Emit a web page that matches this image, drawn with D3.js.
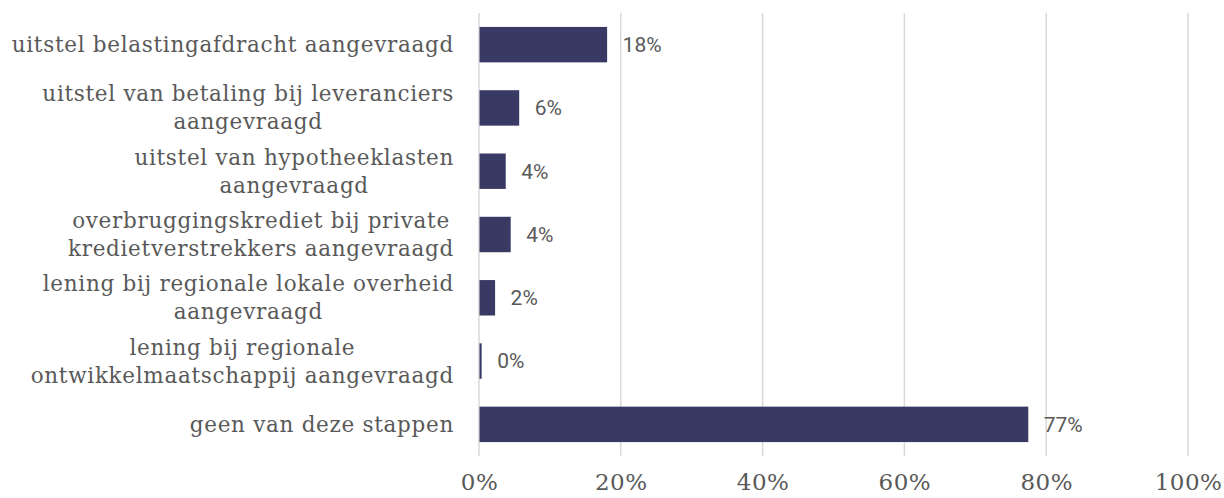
<!DOCTYPE html>
<html>
<head>
<meta charset="utf-8">
<script src="https://cdn.jsdelivr.net/npm/d3@7"></script>
<style>
  body { margin: 0; background: #fff; }
  svg { display: block; }
</style>
</head>
<body>
<svg id="chart" width="1224" height="498"></svg>
<script>
// categories, top to bottom (lines split as in the original)
const categories = [
  ["uitstel belastingafdracht aangevraagd"],
  ["uitstel van betaling bij leveranciers", "aangevraagd"],
  ["uitstel van hypotheeklasten", "aangevraagd"],
  ["overbruggingskrediet bij private", "kredietverstrekkers aangevraagd"],
  ["lening bij regionale lokale overheid", "aangevraagd"],
  ["lening bij regionale", "ontwikkelmaatschappij aangevraagd"],
  ["geen van deze stappen"]
];
const values = [18.0, 5.6, 3.7, 4.4, 2.2, 0.3, 77.4];
const ticks = [0, 20, 40, 60, 80, 100];

const svg = d3.select("#chart");
const margin = { top: 13, bottom: 42, left: 479, right: 36 };
const width = 1224, height = 498;
const labelRight = 454;

const keys = categories.map((c, i) => i);

const x = d3.scaleLinear()
  .domain([0, 100])
  .range([margin.left, width - margin.right]);

const y = d3.scaleBand()
  .domain(keys)
  .range([margin.top, height - margin.bottom])
  .paddingInner(0.44)
  .paddingOuter(0.22);

// gridlines
svg.append("g")
  .selectAll("line")
  .data(ticks)
  .join("line")
  .attr("x1", d => x(d)).attr("x2", d => x(d))
  .attr("y1", margin.top).attr("y2", height - margin.bottom)
  .attr("stroke", "#d9d9d9")
  .attr("stroke-width", 1.5);

// bars
svg.append("g")
  .selectAll("rect")
  .data(values)
  .join("rect")
  .attr("x", x(0) + 0.5)
  .attr("y", (d, i) => y(i))
  .attr("width", d => x(d) - x(0))
  .attr("height", y.bandwidth())
  .attr("fill", "#383a64");

// value labels
svg.append("g")
  .selectAll("text")
  .data(values)
  .join("text")
  .attr("x", d => x(d) + 16)
  .attr("y", (d, i) => y(i) + y.bandwidth() / 2)
  .attr("dy", "0.35em")
  .attr("font-family", "Roboto, sans-serif")
  .attr("font-size", 21)
  .attr("fill", "#595959")
  .text(d => Math.round(d) + "%");

// category labels
const catG = svg.append("g")
  .attr("font-family", "'DejaVu Serif', serif")
  .attr("font-size", 21.5)
  .attr("letter-spacing", 0.7)
  .attr("fill", "#595959");

categories.forEach((lines, i) => {
  const cy = y(i) + y.bandwidth() / 2;
  const lh = 28;
  const t = catG.append("text")
    .attr("text-anchor", "end")
    .attr("x", labelRight);
  const startY = cy - (lines.length - 1) * lh / 2;
  lines.forEach((ln, j) => {
    t.append("tspan")
      .attr("x", labelRight)
      .attr("y", startY + j * lh)
      .attr("dy", "0.35em")
      .text(ln);
  });
});

// multi-line labels: lines centred within a block whose right edge is aligned
catG.selectAll("text").each(function () {
  const tspans = d3.select(this).selectAll("tspan").nodes();
  if (tspans.length < 2) return;
  const maxW = d3.max(tspans, n => n.getComputedTextLength());
  const cx = labelRight - maxW / 2;
  tspans.forEach(n => d3.select(n).attr("text-anchor", "middle").attr("x", cx));
  d3.select(this).attr("text-anchor", null);
});

// x axis tick labels
const xAxis = d3.axisBottom(x)
  .tickValues(ticks)
  .tickSize(0)
  .tickPadding(0)
  .tickFormat(d => d + "%");

svg.append("g")
  .attr("transform", `translate(0, ${height - 24})`)
  .call(xAxis)
  .call(g => g.select(".domain").remove())
  .call(g => g.selectAll("text")
    .attr("font-family", "'DejaVu Serif', serif")
    .attr("font-size", 23)
    .attr("letter-spacing", 0.5)
    .attr("fill", "#595959"));
</script>
</body>
</html>
